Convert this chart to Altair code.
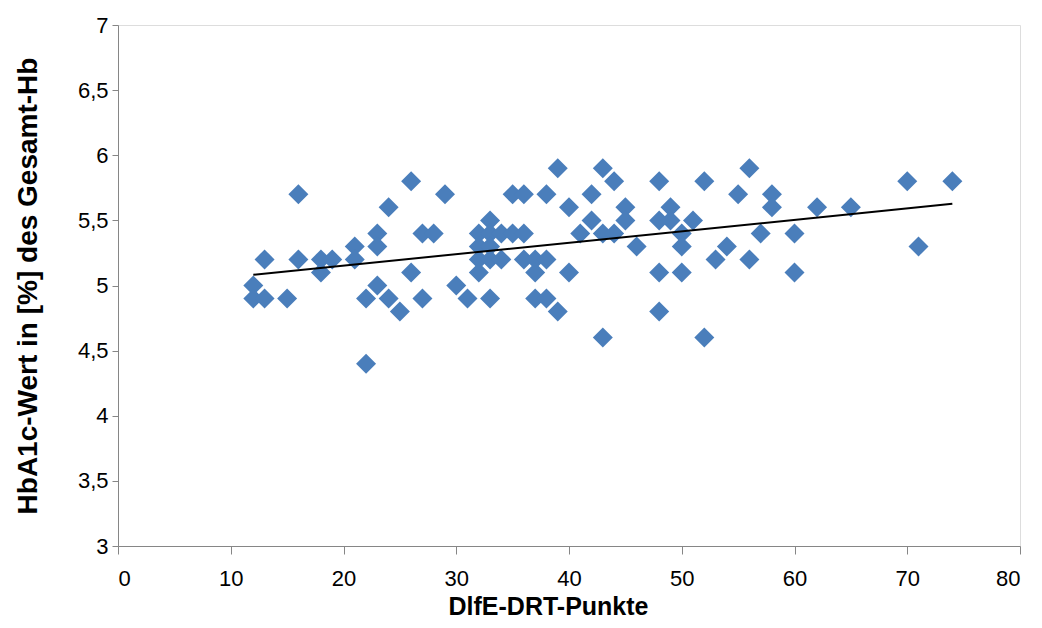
import altair as alt
import pandas as pd

# DlfE-DRT points (x) and HbA1c values (y)
drt = [12, 12, 13, 13, 15, 16, 16, 18, 18, 19,
       21, 21, 22, 22, 23, 23, 23, 24, 24, 25,
       26, 26, 27, 27, 28, 29, 30, 31,
       32, 32, 32, 32, 33, 33, 33, 33, 33,
       34, 34, 35, 35, 36, 36, 36, 37, 37, 37,
       38, 38, 38, 39, 39, 40, 40, 41, 42, 42,
       43, 43, 43, 44, 44, 45, 45, 46,
       48, 48, 48, 48, 49, 49, 50, 50, 50, 51,
       52, 52, 53, 54, 55, 56, 56, 57, 58, 58,
       60, 60, 62, 65, 70, 71, 74]
hba1c = [5.0, 4.9, 5.2, 4.9, 4.9, 5.7, 5.2, 5.2, 5.1, 5.2,
         5.3, 5.2, 4.9, 4.4, 5.4, 5.3, 5.0, 5.6, 4.9, 4.8,
         5.8, 5.1, 5.4, 4.9, 5.4, 5.7, 5.0, 4.9,
         5.4, 5.3, 5.2, 5.1, 5.5, 5.4, 5.3, 5.2, 4.9,
         5.4, 5.2, 5.7, 5.4, 5.7, 5.4, 5.2, 5.2, 5.1, 4.9,
         5.7, 5.2, 4.9, 5.9, 4.8, 5.6, 5.1, 5.4, 5.7, 5.5,
         5.9, 5.4, 4.6, 5.8, 5.4, 5.6, 5.5, 5.3,
         5.8, 5.5, 5.1, 4.8, 5.6, 5.5, 5.4, 5.3, 5.1, 5.5,
         5.8, 4.6, 5.2, 5.3, 5.7, 5.9, 5.2, 5.4, 5.7, 5.6,
         5.4, 5.1, 5.6, 5.6, 5.8, 5.3, 5.8]

x_ticks = [0, 10, 20, 30, 40, 50, 60, 70, 80]
y_ticks = [3, 3.5, 4, 4.5, 5, 5.5, 6, 6.5, 7]

df = pd.DataFrame({"x": drt, "y": hba1c})

FONT = "Liberation Sans"
AXIS_GRAY = "#868686"

x_enc = alt.X(
    "x:Q",
    scale=alt.Scale(domain=[0, 80], nice=False, zero=False),
    axis=alt.Axis(
        values=x_ticks, title="DlfE-DRT-Punkte", grid=False,
        domainColor=AXIS_GRAY, tickColor=AXIS_GRAY, tickSize=8,
        labelFont=FONT, labelFontSize=22, labelColor="#000000", labelPadding=14,
        titleFont=FONT, titleFontSize=25, titleFontWeight="bold",
        titleColor="#000000", titleBaseline="alphabetic",
        titleX=430, titleY=68,
    ),
)
y_enc = alt.Y(
    "y:Q",
    scale=alt.Scale(domain=[3, 7], nice=False, zero=False),
    axis=alt.Axis(
        values=y_ticks, title="HbA1c-Wert in [%] des Gesamt-Hb", grid=False,
        labelExpr="replace(format(datum.value, '.1~f'), '.', ',')",
        domainColor=AXIS_GRAY, tickColor=AXIS_GRAY, tickSize=6,
        labelFont=FONT, labelFontSize=22, labelColor="#000000", labelPadding=4,
        titleFont=FONT, titleFontSize=28, titleFontWeight="bold",
        titleColor="#000000", titlePadding=35,
    ),
)

base = alt.Chart(df)

points = base.mark_point(
    shape="diamond", filled=True, size=400, color="#4A7EBB", opacity=1
).encode(x=x_enc, y=y_enc)

trend = base.transform_regression("x", "y").mark_line(
    color="#000000", strokeWidth=2
).encode(x=x_enc, y=y_enc)

chart = (
    alt.layer(points, trend)
    .properties(
        width=902, height=521,
        autosize=alt.AutoSizeParams(type="none"),
        padding={"left": 110, "top": 17, "right": 14, "bottom": 74},
    )
    .configure_view(stroke=None)
    .configure(background="#ffffff")
)

chart.save("out.html", embed_options={"renderer": "svg", "actions": False})
